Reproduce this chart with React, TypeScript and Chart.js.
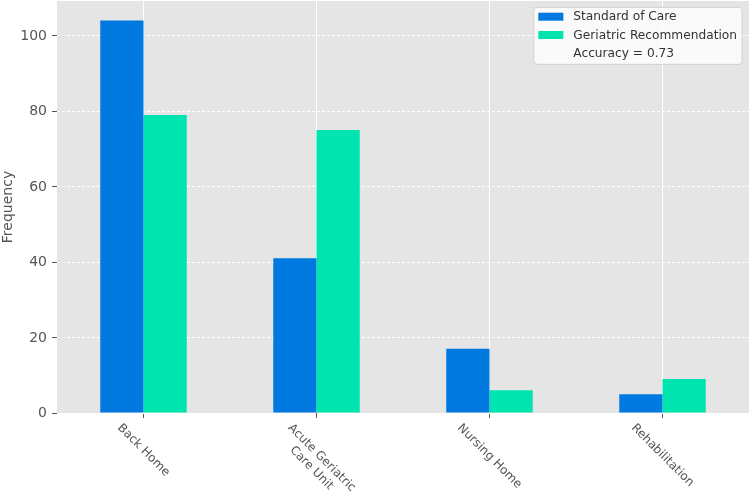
import React, { useEffect, useRef } from "react";
import { Chart, registerables } from "chart.js";

Chart.register(...registerables);

// Discharge destinations and counts per recommendation source
const categories: (string | string[])[] = [
  "Back Home",
  ["Acute Geriatric", "Care Unit"],
  "Nursing Home",
  "Rehabilitation",
];
const standardOfCare = [104, 41, 17, 5];
const geriatricRecommendation = [79, 75, 6, 9];
const seriesNames = ["Standard of Care", "Geriatric Recommendation"];
const accuracyNote = "Accuracy = 0.73";
const yMax = 109.2;
const yStep = 20;

const BLUE = "#0079e0";
const GREEN = "#00e5b0";
const PANEL = "#e5e5e5";
const TEXT = "#555555";
const FONT = "DejaVu Sans";

// Panel background behind grid and bars
const panelPlugin = {
  id: "panel",
  beforeDraw(chart: any) {
    const { ctx, chartArea, width, height } = chart;
    ctx.save();
    ctx.fillStyle = "#ffffff";
    ctx.fillRect(0, 0, width, height);
    ctx.fillStyle = PANEL;
    ctx.fillRect(chartArea.left, chartArea.top, chartArea.right - chartArea.left, chartArea.bottom - chartArea.top);
    ctx.restore();
  },
};

// Value labels to the left of the y tick marks
const yLabelsPlugin = {
  id: "yLabels",
  afterDraw(chart: any) {
    const { ctx, chartArea } = chart;
    const yScale = chart.scales.y;
    ctx.save();
    ctx.font = `14px "${FONT}"`;
    ctx.fillStyle = TEXT;
    ctx.textAlign = "right";
    ctx.textBaseline = "middle";
    yScale.ticks.forEach((t: any) => {
      ctx.fillText(String(t.value), chartArea.left - 10, yScale.getPixelForValue(t.value) + 0.5);
    });
    ctx.restore();
  },
};

// Category labels rotated 45° clockwise, hanging below each tick
const slantedLabelsPlugin = {
  id: "slantedLabels",
  afterDraw(chart: any) {
    const { ctx } = chart;
    const xScale = chart.scales.x;
    const size = 12;
    const lineH = size * 1.2;
    ctx.save();
    ctx.font = `${size}px "${FONT}"`;
    ctx.fillStyle = TEXT;
    ctx.textAlign = "center";
    ctx.textBaseline = "middle";
    const top = chart.chartArea.bottom + 8;
    categories.forEach((cat, i) => {
      const lines = Array.isArray(cat) ? cat : [cat];
      const w = Math.max(...lines.map((l) => ctx.measureText(l).width));
      const h = lines.length * lineH;
      const half = (w + h) / (2 * Math.SQRT2);
      const cx = xScale.getPixelForValue(i);
      const cy = top + half;
      ctx.save();
      ctx.translate(cx, cy);
      ctx.rotate(Math.PI / 4);
      lines.forEach((line, k) => {
        ctx.fillText(line, 0, (k - (lines.length - 1) / 2) * lineH);
      });
      ctx.restore();
    });
    ctx.restore();
  },
};

// Legend box in the upper right corner of the panel
const legendPlugin = {
  id: "cornerLegend",
  afterDraw(chart: any) {
    const { ctx, chartArea } = chart;
    const size = 12.2;
    const entries = [
      { label: seriesNames[0], color: BLUE },
      { label: seriesNames[1], color: GREEN },
      { label: accuracyNote, color: null as string | null },
    ];
    ctx.save();
    ctx.font = `${size}px "${FONT}"`;
    const textW = Math.max(...entries.map((e) => ctx.measureText(e.label).width));
    const padL = 4.5;
    const padR = 5;
    const swW = 25;
    const swH = 8;
    const gap = 10;
    const rowH = 18.3;
    const boxW = padL + swW + gap + textW + padR;
    const boxH = 57;
    const x0 = chartArea.right - 7 - boxW;
    const y0 = chartArea.top + 6.3;
    ctx.beginPath();
    ctx.roundRect(x0, y0, boxW, boxH, 3);
    ctx.fillStyle = "rgba(255,255,255,0.8)";
    ctx.fill();
    ctx.strokeStyle = "#d0d0d0";
    ctx.lineWidth = 1;
    ctx.stroke();
    ctx.textAlign = "left";
    ctx.textBaseline = "middle";
    entries.forEach((e, i) => {
      const cy = y0 + 9.4 + rowH * i;
      if (e.color) {
        ctx.fillStyle = e.color;
        ctx.fillRect(x0 + padL, cy - swH / 2, swW, swH);
      }
      ctx.fillStyle = "#333333";
      ctx.fillText(e.label, x0 + padL + swW + gap, cy + 0.5);
    });
    ctx.restore();
  },
};

export default function App() {
  const canvasRef = useRef<HTMLCanvasElement | null>(null);

  useEffect(() => {
    const canvas = canvasRef.current;
    if (!canvas) return;
    const chart = new Chart(canvas, {
      type: "bar",
      data: {
        labels: categories.map((c) => (Array.isArray(c) ? c.join(" ") : c)),
        datasets: [
          {
            label: seriesNames[0],
            data: standardOfCare,
            backgroundColor: BLUE,
            borderWidth: 0,
            categoryPercentage: 0.5,
            barPercentage: 1,
          },
          {
            label: seriesNames[1],
            data: geriatricRecommendation,
            backgroundColor: GREEN,
            borderWidth: 0,
            categoryPercentage: 0.5,
            barPercentage: 1,
          },
        ],
      },
      options: {
        responsive: false,
        animation: false,
        devicePixelRatio: 1,
        layout: { padding: { top: 1, right: 0, left: 0, bottom: 0 } },
        plugins: {
          legend: { display: false },
          tooltip: { enabled: false },
        },
        scales: {
          x: {
            offset: true,
            grid: {
              offset: false,
              color: "#ffffff",
              lineWidth: 1,
              drawTicks: true,
              tickLength: 5,
              tickColor: TEXT,
              tickWidth: 1,
            },
            border: { display: false },
            ticks: { display: false },
            afterFit: (scale: any) => {
              scale.height = 83;
              scale.paddingLeft = 0;
              scale.paddingRight = 0;
            },
          },
          y: {
            min: 0,
            max: yMax,
            ticks: {
              stepSize: yStep,
              includeBounds: false,
              display: false,
            },
            grid: {
              color: "#ffffff",
              lineWidth: 1,
              drawTicks: true,
              tickLength: 5,
              tickColor: TEXT,
              tickWidth: 1,
              tickBorderDash: [],
            },
            border: { display: false, dash: [3, 2] },
            title: {
              display: true,
              text: "Frequency",
              color: TEXT,
              font: { family: FONT, size: 14 },
              padding: { top: 0, bottom: 0 },
            },
            afterFit: (scale: any) => {
              scale.width = 57;
              scale.paddingTop = 0;
              scale.paddingBottom = 0;
            },
          },
        },
      },
      plugins: [panelPlugin, yLabelsPlugin, slantedLabelsPlugin, legendPlugin],
    });
    return () => chart.destroy();
  }, []);

  return (
    <div style={{ position: "absolute", left: 0, top: 0, width: 749, height: 496 }}>
      <canvas ref={canvasRef} width={749} height={496} style={{ display: "block" }} />
    </div>
  );
}
